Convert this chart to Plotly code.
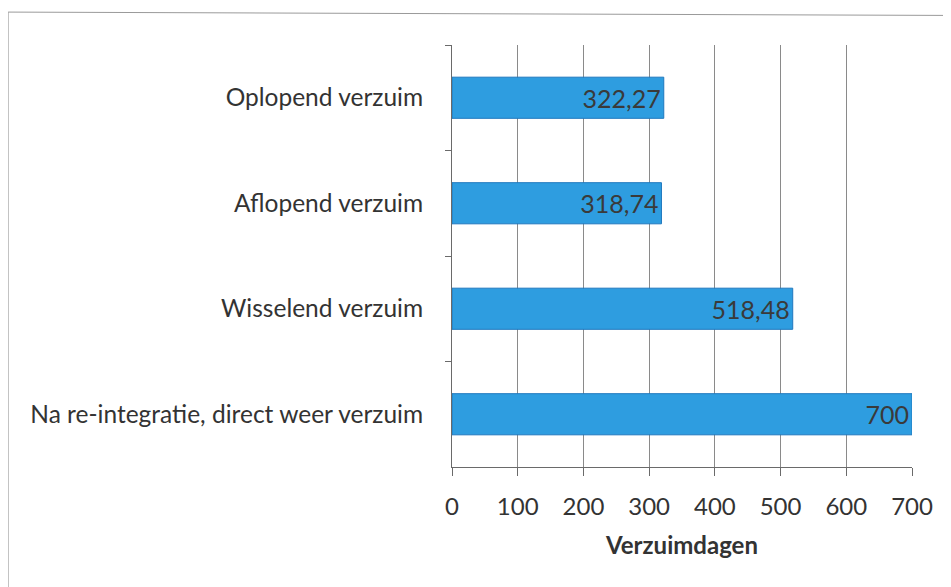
import plotly.graph_objects as go

categories = [
    "Oplopend verzuim",
    "Aflopend verzuim",
    "Wisselend verzuim",
    "Na re-integratie, direct weer verzuim",
]
values = [322.27, 318.74, 518.48, 700]
x_ticks = [0, 100, 200, 300, 400, 500, 600, 700]

labels = [f"{v:.2f}".replace(".", ",") if v != int(v) else f"{int(v)}" for v in values]

font_family = "Lato, 'Open Sans', sans-serif"

fig = go.Figure()
fig.add_trace(go.Bar(
    y=categories, x=values, orientation="h",
    marker=dict(color="#2E9DE0", line=dict(color="#1F78BE", width=1)),
    text=labels, textposition="inside", insidetextanchor="end",
    textfont=dict(size=25, color="#3a3a3a", family=font_family),
    width=0.39,
))

fig.update_xaxes(
    range=[0, 700], tickvals=x_ticks,
    showgrid=True, gridcolor="#8a8a8a", gridwidth=1,
    showline=True, linecolor="#6a6a6a", linewidth=1,
    ticks="outside", ticklen=8, tickcolor="#6a6a6a",
    ticklabelstandoff=10,
    tickfont=dict(size=24, color="#333333", family=font_family),
    title=dict(text="<b>Verzuimdagen</b>", font=dict(size=24, color="#333333", family=font_family),
               standoff=18),
    zeroline=False,
)
fig.update_yaxes(
    autorange="reversed",
    showline=True, linecolor="#6a6a6a", linewidth=1,
    ticks="outside", ticklen=6, tickcolor="#6a6a6a", tickson="boundaries",
    tickfont=dict(size=24.5, color="#333333", family=font_family),
    ticklabelstandoff=23,
    showgrid=False,
)

# scanned page frame (left and top edges)
fig.add_shape(type="line", xref="paper", yref="paper",
              x0=-0.965, x1=-0.965, y0=-0.3, y1=1.078,
              line=dict(color="#9a9a9a", width=1))
fig.add_shape(type="line", xref="paper", yref="paper",
              x0=-0.965, x1=1.1, y0=1.078, y1=1.07,
              line=dict(color="#9a9a9a", width=1))

fig.update_layout(
    width=951, height=587,
    margin=dict(l=444, r=47, t=37, b=128),
    plot_bgcolor="white", paper_bgcolor="white",
    showlegend=False,
    bargap=0.6,
)

fig.write_html("out.html")
